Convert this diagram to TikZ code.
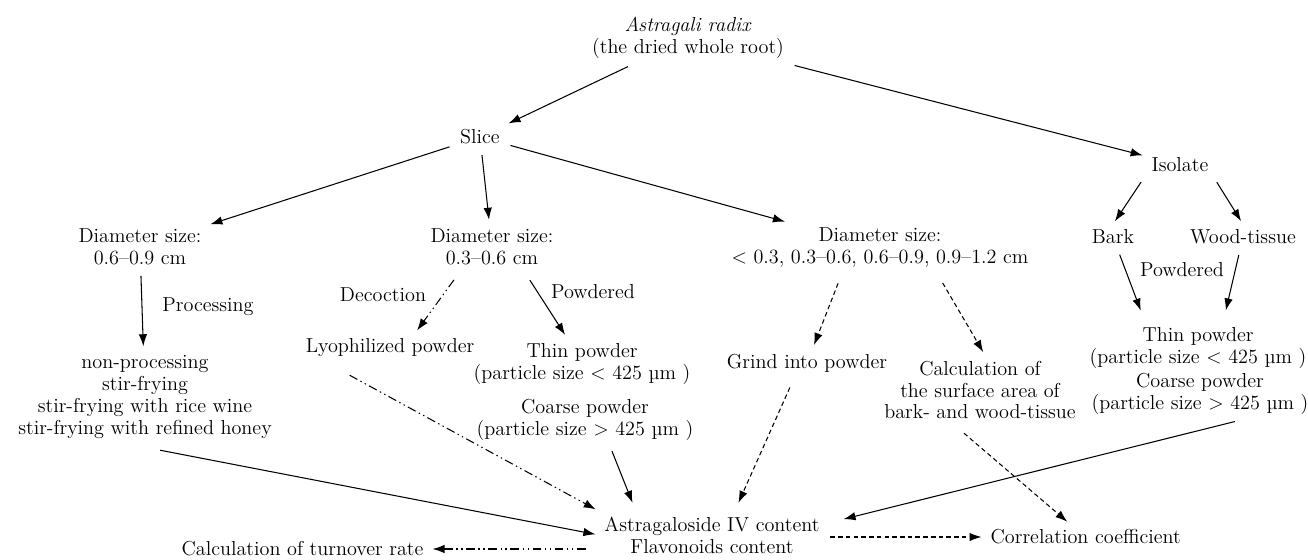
\documentclass[tikz,border=0pt]{standalone}
\usepackage{tikz}
\usetikzlibrary{calc,arrows.meta}
\tikzset{
	txt/.style={align=center, inner sep=3pt, font=\fontsize{11.5}{12.5}\selectfont},
	arr/.style={line width=0.6pt, -{Latex[length=2.4mm,width=1.7mm]}, shorten >=2pt, shorten <=3pt},
	dashdot/.style={dash pattern=on 5pt off 2pt on 0.8pt off 2pt on 0.8pt off 2pt},
	dashline/.style={dash pattern=on 2.6pt off 1.8pt}
}

\begin{document}
\begin{tikzpicture}[x=0.02cm, y=-0.02cm]
		%%%%% START %%%%%
		\useasboundingbox (0, 0) rectangle (1308, 560);
		
		\node[txt] (root) at (688, 38) {\textit{Astragali radix}\\(the dried whole root)};
		\node[txt] (slice) at (480, 137) {Slice};
		\node[txt] (isolate) at (1180, 165) {Isolate};
		
		\node[txt] (d1) at (140, 247) {Diameter size:\\0.6--0.9 cm};
		\node[txt] (d2) at (492, 247) {Diameter size:\\0.3--0.6 cm};
		\node[txt] (d3) at (880, 248) {Diameter size:\\< 0.3, 0.3--0.6, 0.6--0.9, 0.9--1.2 cm};
		\node[txt] (bark) at (1113, 237) {Bark};
		\node[txt] (wood) at (1243, 237) {Wood-tissue};
		
		\node[txt] (proclbl) at (208, 307) {Processing};
		\node[txt] (declbl) at (383, 295) {Decoction};
		\node[txt] (powlbl) at (593, 292) {Powdered};
		\node[txt] (powlblr) at (1182, 270) {Powdered};
		
		\node[txt] (procout) at (145, 397) {non-processing\\stir-frying\\stir-frying with rice wine\\stir-frying with refined honey};
		\node[txt] (lyo) at (390, 348) {Lyophilized powder};
		\node[txt] (thinm) at (582, 364) {Thin powder\\(particle size < 425 µm )};
		\node[txt] (coarsem) at (585, 420) {Coarse powder\\(particle size > 425 µm )};
		\node[txt] (grind) at (807, 363) {Grind into powder};
		\node[txt] (calc) at (980, 390) {Calculation of\\the surface area of\\bark- and wood-tissue};
		\node[txt] (thinr) at (1198, 348) {Thin powder\\(particle size < 425 µm )};
		\node[txt] (coarser) at (1200, 394) {Coarse powder\\(particle size > 425 µm )};
		
		\node[txt] (astra) at (712, 535) {Astragaloside IV content\\Flavonoids content};
		\node[txt, anchor=west] (turn) at (176, 549) {Calculation of turnover rate};
		\node[txt, anchor=west] (corr) at (985, 537) {Correlation coefficient};
		
		% top of the tree
		\draw[arr] (root) -- (slice);
		\draw[arr] (root) -- (isolate);
		\draw[arr] (slice) -- (d1);
		\draw[arr] (slice) -- (d2);
		\draw[arr] (slice) -- (d3);
		\draw[arr] ($(isolate.south)+(-36,0)$) -- (bark.north);
		\draw[arr] ($(isolate.south)+(34,0)$) -- (wood.north);
		
		% second level
		\draw[arr] (d1) -- (procout);
		\draw[arr, dashdot] ($(d2.south)+(-35,5)$) -- ($(lyo.north)+(25,0)$);
		\draw[arr] ($(d2.south)+(35,5)$) -- ($(thinm.north)+(-15,0)$);
		\draw[arr, dashline] ($(d3.south)+(-40,5)$) -- (grind);
		\draw[arr, dashline] ($(d3.south)+(60,5)$) -- ($(calc.north)+(5,0)$);
		\draw[arr] (bark) -- ($(thinr.north)+(-56,-8)$);
		\draw[arr] (wood) -- ($(thinr.north)+(27,-8)$);
		
		% into the contents
		\draw[arr] ($(procout.south)+(10,5)$) -- (astra.west);
		\draw[arr, dashdot] ($(lyo.south)+(-45,10)$) -- (astra.north west);
		\draw[arr] ($(coarsem.south)+(25,0)$) -- ($(astra.north west)+(35,-5)$);
		\draw[arr, dashline] ($(grind.south)+(-15,5)$) -- ($(astra.north)+(25,-5)$);
		\draw[arr] ($(coarser.south)+(40,0)$) -- ($(astra.east)+(15,-15)$);
		\draw[arr, dashline] ($(calc.south)+(-20,5)$) -- ($(corr.north west)+(85,0)$);
		
		\draw[arr, dashdot] ($(astra.west |- turn)+(-8,0)$) -- (turn.east);
		\draw[arr, dashline] (astra.east |- corr) -- (corr.west);
		%%%%% END %%%%%
	\end{tikzpicture}
\end{document}
